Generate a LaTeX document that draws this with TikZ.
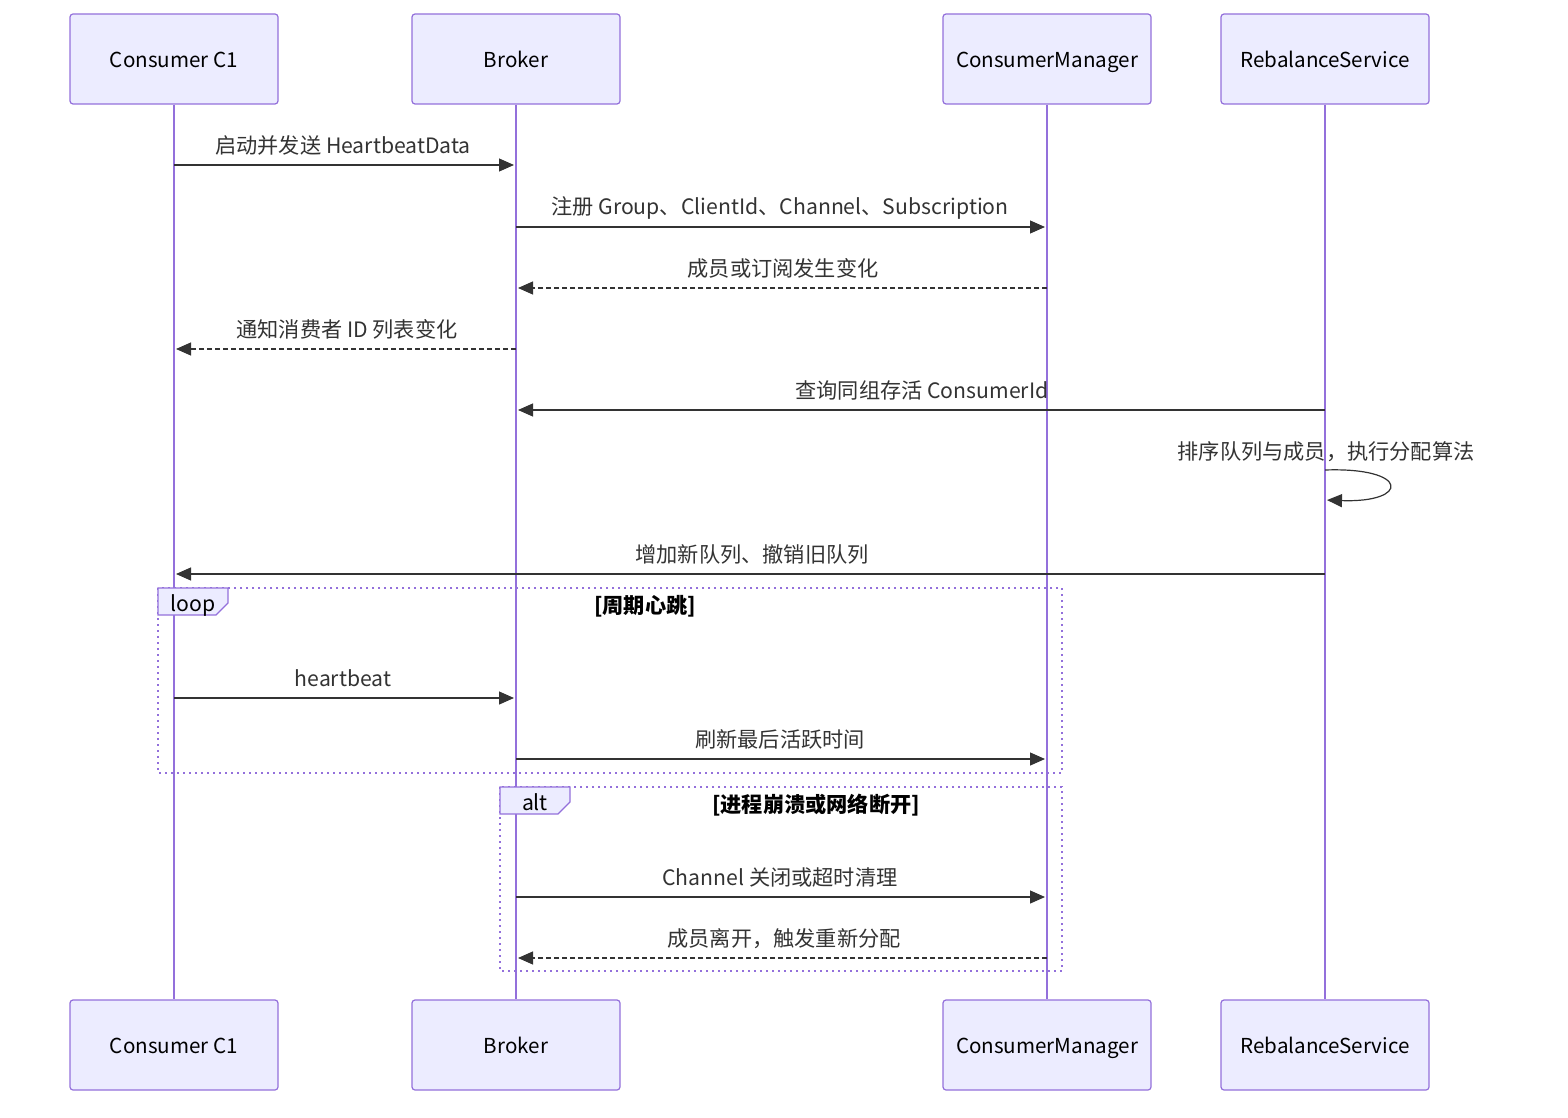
\documentclass[tikz,border=0pt]{standalone}
\usepackage{fontspec}
\setmainfont{Noto Sans CJK SC}
\usepackage{xcolor}
\usetikzlibrary{arrows.meta}
\definecolor{actfill}{HTML}{ECECFF}
\definecolor{actline}{HTML}{9370DB}
\definecolor{msgline}{HTML}{333333}

\begin{document}
\begin{tikzpicture}[x=0.5pt,y=-0.5pt,
      actor/.style={draw=actline,fill=actfill,rounded corners=1.5pt,line width=0.6pt,
        minimum width=104pt,minimum height=45pt,text height=10pt,text depth=1.5pt,
        font=\fontsize{10.3}{12}\selectfont},
      life/.style={actline,line width=1.1pt},
      msg/.style={-{Triangle[length=7.5pt,width=6.5pt]},msgline,line width=0.6pt,shorten >=1pt},
      reply/.style={msg,dash pattern=on 2.5pt off 1.5pt},
      lbl/.style={font=\fontsize{10.6}{12}\selectfont,text=msgline,text height=10pt,text depth=1.5pt},
      frame/.style={actline,line width=1.2pt,dash pattern=on 1pt off 2pt},
      tab/.style={draw=actline,fill=actfill,line width=0.6pt},
      cond/.style={font=\fontsize{10.6}{12}\selectfont\bfseries,text=black,text height=10pt,text depth=1.5pt}]
    \useasboundingbox (0,0) rectangle (1568,1118);
    % participants
    \node[actor] (c1top) at (174,59) {Consumer C1};
    \node[actor] (brtop) at (516,59) {Broker};
    \node[actor] (cmtop) at (1047,59) {ConsumerManager};
    \node[actor] (rbtop) at (1325,59) {RebalanceService};
    \node[actor] (c1bot) at (174,1045) {Consumer C1};
    \node[actor] (brbot) at (516,1045) {Broker};
    \node[actor] (cmbot) at (1047,1045) {ConsumerManager};
    \node[actor] (rbbot) at (1325,1045) {RebalanceService};
    \draw[life] (c1top) -- (c1bot);
    \draw[life] (brtop) -- (brbot);
    \draw[life] (cmtop) -- (cmbot);
    \draw[life] (rbtop) -- (rbbot);
    % messages
    \draw[msg] (c1top |- 0,165) -- (brtop |- 0,165);
    \node[lbl] (m1) at (343,145) {启动并发送 HeartbeatData};
    \draw[msg] (brtop |- 0,227) -- (cmtop |- 0,227);
    \node[lbl] (m2) at (780,206) {注册 Group、ClientId、Channel、Subscription};
    \draw[reply] (cmtop |- 0,288) -- (brtop |- 0,288);
    \node[lbl] (m3) at (783,268) {成员或订阅发生变化};
    \draw[reply] (brtop |- 0,349) -- (c1top |- 0,349);
    \node[lbl] (m4) at (347,329) {通知消费者 ID 列表变化};
    \draw[msg] (rbtop |- 0,410) -- (brtop |- 0,410);
    \node[lbl] (m5) at (922,390) {查询同组存活 ConsumerId};
    \coordinate (selfa) at (rbtop |- 0,470);
    \coordinate (selfb) at (rbtop |- 0,500);
    \draw[msg] (selfa) .. controls +(85,-3) and +(85,3) .. (selfb);
    \node[lbl] (m6) at (1326,451) {排序队列与成员，执行分配算法};
    \draw[msg] (rbtop |- 0,574) -- (c1top |- 0,574);
    \node[lbl] (m7) at (752,554) {增加新队列、撤销旧队列};
    % loop frame
    \draw[frame] (158,588) rectangle (1062,773);
    \draw[tab] (158,588) -- (228,588) -- (228,603) -- (216,615) -- (158,615) -- cycle;
    \node[cond,font=\fontsize{10.6}{12}\selectfont] (looptag) at (193,603) {loop};
    \node[cond] (loopcond) at (645,605) {[周期心跳]};
    \draw[msg] (c1top |- 0,698) -- (brtop |- 0,698);
    \node[lbl] (m8) at (343,678) {heartbeat};
    \draw[msg] (brtop |- 0,759) -- (cmtop |- 0,759);
    \node[lbl] (m9) at (780,739) {刷新最后活跃时间};
    % alt frame
    \draw[frame] (500,787) rectangle (1062,971);
    \draw[tab] (500,787) -- (570,787) -- (570,802) -- (558,814) -- (500,814) -- cycle;
    \node[cond,font=\fontsize{10.6}{12}\selectfont] (alttag) at (535,802) {alt};
    \node[cond] (altcond) at (816,804) {[进程崩溃或网络断开]};
    \draw[msg] (brtop |- 0,897) -- (cmtop |- 0,897);
    \node[lbl] (m10) at (780,877) {Channel 关闭或超时清理};
    \draw[reply] (cmtop |- 0,958) -- (brtop |- 0,958);
    \node[lbl] (m11) at (784,938) {成员离开，触发重新分配};
  \end{tikzpicture}
\end{document}
